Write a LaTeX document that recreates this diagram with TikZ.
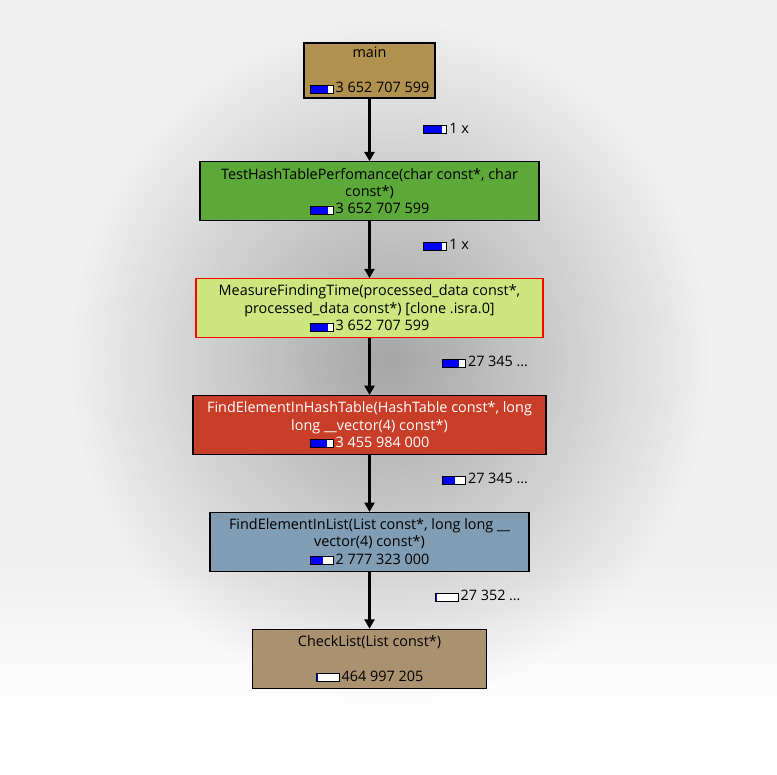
\documentclass[tikz,border=0pt]{standalone}
\usepackage{fontspec}
\setmainfont{Open Sans}
\usetikzlibrary{positioning, arrows.meta, fadings}

\definecolor{mainclr}{RGB}{176,145,78}
\definecolor{testclr}{RGB}{92,168,56}
\definecolor{measureclr}{RGB}{206,230,128}
\definecolor{hashclr}{RGB}{200,62,40}
\definecolor{listclr}{RGB}{128,157,180}
\definecolor{checkclr}{RGB}{170,146,112}

\tikzfading[name=halo, inner color=transparent!0, outer color=transparent!100]

% cost bar: blue part (pt) out of 16.5pt
\newcommand{\costbar}[1]{{\color{black}\setlength{\fboxsep}{0pt}\setlength{\fboxrule}{0.75pt}%
  \fbox{\textcolor{blue}{\rule{#1pt}{5.25pt}}\textcolor{white}{\rule{\dimexpr16.5pt-#1pt\relax}{5.25pt}}}}\hspace{1.5pt}}

\begin{document}
\begin{tikzpicture}[
    x=0.75pt, y=-0.75pt,
    node distance=42.5pt,
    fn/.style={draw=black, line width=0.9pt, align=center, minimum height=44.25pt,
        inner sep=1pt, font=\fontsize{10.8}{13}\selectfont},
    call/.style={-{Triangle[length=7pt, width=7.5pt]}, line width=2.8pt},
    calls/.style={anchor=west, pos=0.42, inner sep=0pt, font=\fontsize{10.8}{13}\selectfont}
]

    % Fundo
    \useasboundingbox (0,0) rectangle (777,774);
    \fill[gray!12] (0,0) rectangle (777,560);
    \shade[top color=gray!12, bottom color=white] (0,559) rectangle (777,720);
    \fill[white] (0,719) rectangle (777,774);
    \fill[black, opacity=0.31, path fading=halo] (70,20) rectangle (710,700);

    % Funções
    \node[fn, fill=mainclr, minimum width=98.25pt, minimum height=41.25pt] (main) at (369.5,70.5)
        {main\\[13pt]\costbar{13}3 652 707 599};
    \node[fn, fill=testclr, minimum width=254.25pt] (test) [below=47pt of main]
        {TestHashTablePerfomance(char const*, char\\const*)\\\costbar{13}3 652 707 599};
    \node[fn, fill=measureclr, draw=red, minimum width=260.25pt] (measure) [below=of test]
        {MeasureFindingTime(processed\_data const*,\\processed\_data const*) [clone .isra.0]\\\costbar{13}3 652 707 599};
    \node[fn, fill=hashclr, text=white, minimum width=264.75pt] (hash) [below=of measure]
        {FindElementInHashTable(HashTable const*, long\\long \_\_vector(4) const*)\\\costbar{12}3 455 984 000};
    \node[fn, fill=listclr, minimum width=239.25pt] (list) [below=of hash]
        {FindElementInList(List const*, long long \_\_\\vector(4) const*)\\\costbar{9}2 777 323 000};
    \node[fn, fill=checkclr, minimum width=175.5pt] (check) [below=of list]
        {CheckList(List const*)\\[13pt]\costbar{1}464 997 205};

    % Chamadas
    \draw[call] (main) -- (test) node[calls, pos=0.48, xshift=39pt] {\costbar{13}1 x};
    \draw[call] (test) -- (measure) node[calls, xshift=39pt] {\costbar{13}1 x};
    \draw[call] (measure) -- (hash) node[calls, xshift=53pt] {\costbar{12}27 345 \dots};
    \draw[call] (hash) -- (list) node[calls, xshift=53pt] {\costbar{9}27 345 \dots};
    \draw[call, line width=1.6pt] (list) -- (check) node[calls, xshift=48pt] {\costbar{1}27 352 \dots};

\end{tikzpicture}
\end{document}
